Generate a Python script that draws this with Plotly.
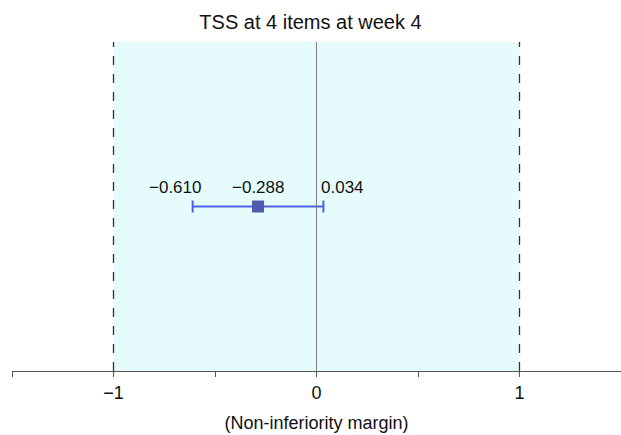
import plotly.graph_objects as go

# Data
estimate = [-0.288]
lower = [-0.610]
upper = [0.034]
row_y = [0.5]
margins = [-1, 1]
tick_vals = [-1.5, -1, -0.5, 0, 0.5, 1, 1.5]
tick_text = ["", "\u22121", "", "0", "", "1", ""]
title = "TSS at 4 items at week 4"
x_title = "(Non-inferiority margin)"

FONT = "Liberation Sans, Arial, sans-serif"

fig = go.Figure()

# shaded non-inferiority region
fig.add_shape(type="rect", xref="x", yref="y", x0=margins[0], x1=margins[1], y0=0, y1=1,
              fillcolor="#E6FCFC", line=dict(width=0), layer="below")
# dashed margin lines
for m in margins:
    fig.add_shape(type="line", xref="x", yref="y", x0=m, x1=m, y0=0, y1=1,
                  line=dict(color="#333333", width=1.3, dash="dash"))
# zero line
fig.add_shape(type="line", xref="x", yref="y", x0=0, x1=0, y0=0, y1=1,
              line=dict(color="#808080", width=1))

fig.add_trace(go.Scatter(
    x=estimate, y=row_y, mode="markers",
    marker=dict(symbol="square", size=12, color="#4B5BAE"),
    error_x=dict(type="data", symmetric=False,
                 array=[u - e for u, e in zip(upper, estimate)],
                 arrayminus=[e - l for e, l in zip(estimate, lower)],
                 color="#4F60E8", thickness=2, width=6),
    showlegend=False, hoverinfo="skip"))

def fmt(v):
    s = f"{abs(v):.3f}"
    return ("\u2212" + s) if v < 0 else s

font_lbl = dict(family=FONT, size=17, color="#111111")
fig.add_annotation(x=lower[0], y=row_y[0], text=fmt(lower[0]), showarrow=False,
                   xanchor="right", yanchor="bottom", xshift=10, yshift=8, font=font_lbl)
fig.add_annotation(x=estimate[0], y=row_y[0], text=fmt(estimate[0]), showarrow=False,
                   xanchor="center", yanchor="bottom", yshift=8, font=font_lbl)
fig.add_annotation(x=upper[0], y=row_y[0], text=fmt(upper[0]), showarrow=False,
                   xanchor="left", yanchor="bottom", xshift=-4, yshift=8, font=font_lbl)

fig.update_layout(
    width=621, height=435,
    margin=dict(l=12, r=0, t=42, b=64),
    paper_bgcolor="white", plot_bgcolor="white",
    title=dict(text=title, x=0.5, xanchor="center", y=1 - 22 / 435, yanchor="middle",
               font=dict(family=FONT, size=20, color="#111111")),
    xaxis=dict(range=[-1.5, 1.5], tickvals=tick_vals, ticktext=tick_text,
               showgrid=False, zeroline=False, showline=True, linecolor="#555555", linewidth=1.2,
               ticks="outside", ticklen=5, tickcolor="#555555", tickwidth=1.2,
               tickfont=dict(family=FONT, size=18, color="#111111"),
               title=dict(text=x_title, standoff=14,
                          font=dict(family=FONT, size=18, color="#111111")),
               fixedrange=True),
    yaxis=dict(range=[0, 1], visible=False, fixedrange=True),
)

fig.write_html("out.html", config={"displayModeBar": False},
               post_script="document.body.style.margin='0';document.body.style.overflow='hidden';")
